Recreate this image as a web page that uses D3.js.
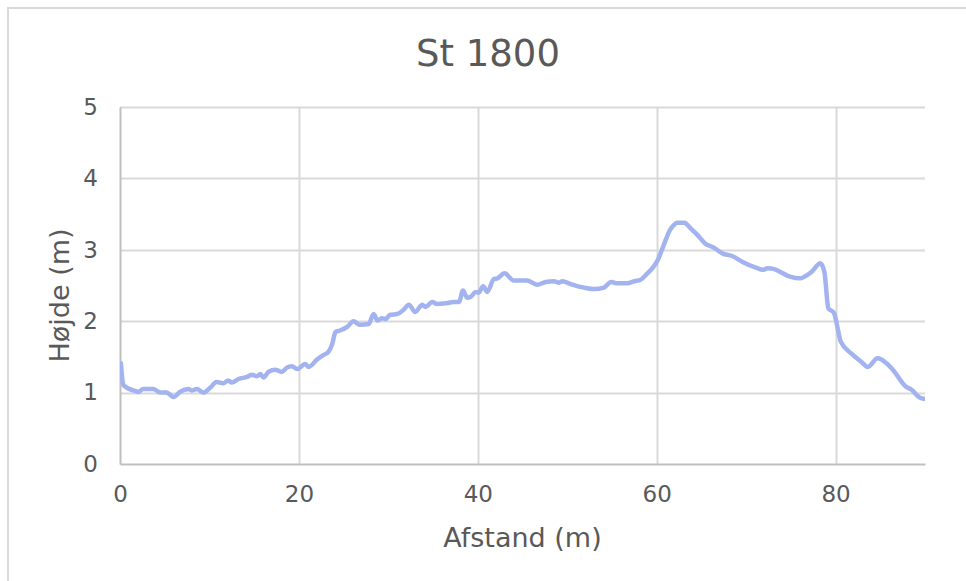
<!DOCTYPE html>
<html>
<head>
<meta charset="utf-8">
<script src="https://cdn.jsdelivr.net/npm/d3@7"></script>
<style>
  html, body { margin: 0; padding: 0; background: #ffffff; }
  svg { display: block; }
  text { font-family: "DejaVu Sans", Verdana, sans-serif; fill: #595959; }
</style>
</head>
<body>
<svg id="chart" width="966" height="581"></svg>
<script>
// ---- data ----
const title = "St 1800";
const xTitle = "Afstand (m)";
const yTitle = "Højde (m)";
const xTicks = [0, 20, 40, 60, 80];
const yTicks = [0, 1, 2, 3, 4, 5];
const distance = [0.1, 0.37, 0.75, 1.5, 2.05, 2.6, 3.7, 4.5, 5.2, 6.0, 6.7, 7.65, 8.0, 8.6, 9.3, 10.1, 10.8, 11.55, 12.1, 12.5, 13.25, 14.2, 14.75, 15.3, 15.7, 16.05, 16.6, 17.35, 18.1, 18.65, 19.2, 19.8, 20.7, 21.1, 22.0, 22.8, 23.3, 23.7, 24.1, 24.6, 25.4, 26.1, 26.8, 27.8, 28.35, 28.8, 29.3, 29.7, 30.2, 31.0, 31.7, 32.3, 33.0, 33.8, 34.15, 34.9, 35.45, 36.4, 37.3, 37.9, 38.35, 38.8, 39.2, 39.75, 40.1, 40.6, 41.05, 41.8, 42.2, 43.0, 44.0, 45.5, 46.65, 47.6, 48.5, 49.1, 49.45, 50.4, 51.9, 53.0, 54.1, 54.9, 55.6, 56.7, 57.5, 58.2, 58.8, 59.5, 60.1, 60.8, 61.5, 61.8, 62.3, 63.1, 63.8, 64.55, 65.5, 66.25, 67.35, 68.5, 69.6, 71.1, 71.85, 72.4, 73.15, 73.5, 75.0, 75.95, 77.3, 78.3, 78.75, 79.2, 79.8, 80.6, 81.75, 82.9, 83.6, 84.7, 85.7, 86.4, 87.9, 88.5, 89.4, 90.0];
const height = [1.41, 1.11, 1.07, 1.03, 1.01, 1.05, 1.05, 1.0, 1.0, 0.94, 1.01, 1.05, 1.03, 1.05, 1.0, 1.07, 1.15, 1.13, 1.17, 1.14, 1.19, 1.22, 1.25, 1.23, 1.26, 1.21, 1.29, 1.32, 1.29, 1.35, 1.37, 1.33, 1.40, 1.36, 1.46, 1.53, 1.57, 1.67, 1.85, 1.87, 1.92, 2.0, 1.95, 1.96, 2.10, 2.01, 2.04, 2.03, 2.09, 2.10, 2.16, 2.23, 2.13, 2.23, 2.20, 2.27, 2.24, 2.25, 2.27, 2.27, 2.43, 2.33, 2.34, 2.41, 2.40, 2.49, 2.41, 2.59, 2.60, 2.67, 2.57, 2.57, 2.51, 2.55, 2.56, 2.54, 2.56, 2.52, 2.47, 2.45, 2.47, 2.55, 2.53, 2.53, 2.56, 2.58, 2.65, 2.74, 2.85, 3.07, 3.28, 3.33, 3.38, 3.38, 3.30, 3.21, 3.08, 3.04, 2.95, 2.91, 2.83, 2.75, 2.72, 2.74, 2.73, 2.71, 2.62, 2.60, 2.69, 2.81, 2.69, 2.18, 2.12, 1.71, 1.55, 1.43, 1.36, 1.48, 1.41, 1.32, 1.08, 1.04, 0.93, 0.91];

// ---- layout ----
const svg = d3.select("#chart");
const W = 966, H = 581;
const plot = { left: 120, right: 925, top: 107, bottom: 464 };

// chart border
svg.append("rect")
  .attr("x", 8).attr("y", 8)
  .attr("width", W + 20).attr("height", H + 20)
  .attr("fill", "#ffffff")
  .attr("stroke", "#d9d9d9").attr("stroke-width", 2);

const x = d3.scaleLinear().domain([0, 90]).range([plot.left, plot.right]);
const y = d3.scaleLinear().domain([0, 5]).range([plot.bottom, plot.top]);

// gridlines
const grid = svg.append("g");
grid.selectAll("line.h").data(yTicks.filter(d => d > 0)).enter().append("line")
  .attr("x1", plot.left).attr("x2", plot.right)
  .attr("y1", d => Math.round(y(d)) + 0.5).attr("y2", d => Math.round(y(d)) + 0.5)
  .attr("stroke", "#d9d9d9").attr("stroke-width", 2);
grid.selectAll("line.v").data(xTicks.filter(d => d > 0)).enter().append("line")
  .attr("y1", plot.top).attr("y2", plot.bottom)
  .attr("x1", d => Math.round(x(d)) + 0.5).attr("x2", d => Math.round(x(d)) + 0.5)
  .attr("stroke", "#d9d9d9").attr("stroke-width", 2);

// axes
const xAxis = d3.axisBottom(x).tickValues(xTicks).tickSize(0).tickPadding(22).tickFormat(d3.format("d"));
const yAxis = d3.axisLeft(y).tickValues(yTicks).tickSize(0).tickPadding(22).tickFormat(d3.format("d"));

const gx = svg.append("g").attr("transform", `translate(0,${plot.bottom})`).call(xAxis);
gx.select(".domain").attr("stroke", "#bfbfbf").attr("stroke-width", 2);
gx.selectAll("text").attr("font-size", 23).attr("fill", "#595959")
  .attr("font-family", "DejaVu Sans, Verdana, sans-serif");

const gy = svg.append("g").attr("transform", `translate(${plot.left},0)`).call(yAxis);
gy.select(".domain").attr("stroke", "#bfbfbf").attr("stroke-width", 2);
gy.selectAll("text").attr("font-size", 23).attr("fill", "#595959")
  .attr("font-family", "DejaVu Sans, Verdana, sans-serif");

// line
const pts = distance.map((d, i) => [d, height[i]]);
svg.append("defs").append("clipPath").attr("id", "clip")
  .append("rect").attr("x", plot.left).attr("y", plot.top - 5)
  .attr("width", plot.right - plot.left).attr("height", plot.bottom - plot.top + 10);
svg.append("path")
  .datum(pts)
  .attr("clip-path", "url(#clip)")
  .attr("fill", "none")
  .attr("stroke", "#a3b3f0")
  .attr("stroke-width", 4.5)
  .attr("stroke-linejoin", "round")
  .attr("stroke-linecap", "round")
  .attr("d", d3.line().x(d => x(d[0])).y(d => y(d[1])).curve(d3.curveMonotoneX));

// titles
svg.append("text").attr("x", 488).attr("y", 66).attr("text-anchor", "middle")
  .attr("font-size", 37).text(title);
svg.append("text").attr("x", (plot.left + plot.right) / 2).attr("y", 547).attr("text-anchor", "middle")
  .attr("font-size", 27).text(xTitle);
svg.append("text").attr("transform", `translate(69,${(plot.top + plot.bottom) / 2 + 10}) rotate(-90)`)
  .attr("text-anchor", "middle").attr("font-size", 27).text(yTitle);
</script>
</body>
</html>
